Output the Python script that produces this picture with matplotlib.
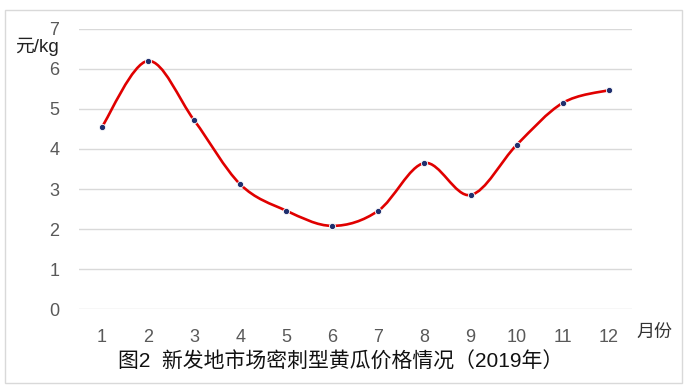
import matplotlib.pyplot as plt
import numpy as np
from matplotlib.path import Path
from matplotlib.patches import PathPatch, Rectangle

plt.rcParams['font.family'] = ['Liberation Sans', 'Noto Sans CJK SC', 'DejaVu Sans']

months = ['1', '2', '3', '4', '5', '6', '7', '8', '9', '10', '11', '12']
price = [4.55, 6.2, 4.72, 3.12, 2.46, 2.08, 2.46, 3.65, 2.85, 4.1, 5.15, 5.47]
yticks = [0, 1, 2, 3, 4, 5, 6, 7]

fig = plt.figure(figsize=(6.92, 3.85), dpi=100)
ax = fig.add_axes([0.114, 0.197, 0.799, 0.728])

x = np.arange(len(price))
y = np.array(price)

# smoothed line like excel (catmull-rom -> bezier)
verts = [(x[0], y[0])]
codes = [Path.MOVETO]
n = len(x)
for i in range(n - 1):
    p0 = (x[i - 1], y[i - 1]) if i > 0 else (x[i], y[i])
    p1 = (x[i], y[i])
    p2 = (x[i + 1], y[i + 1])
    p3 = (x[i + 2], y[i + 2]) if i + 2 < n else (x[i + 1], y[i + 1])
    c1 = (p1[0] + (p2[0] - p0[0]) / 6, p1[1] + (p2[1] - p0[1]) / 6)
    c2 = (p2[0] - (p3[0] - p1[0]) / 6, p2[1] - (p3[1] - p1[1]) / 6)
    verts += [c1, c2, p2]
    codes += [Path.CURVE4] * 3
ax.add_patch(PathPatch(Path(verts, codes), fill=False, edgecolor='#e00000', lw=1.9, zorder=3))
ax.plot(x, y, 'o', ms=4.5, color='#1f2f6e', mec='white', mew=0.6, zorder=4)

ax.set_xlim(-0.5, n - 0.5)
ax.set_ylim(0, 7)
ax.set_yticks(yticks)
ax.set_xticks(x)
ax.set_xticklabels(months)
ax.grid(axis='y', color='#d9d9d9', lw=1)
ax.set_axisbelow(True)
for s in ax.spines.values():
    s.set_visible(False)
ax.tick_params(length=0, labelsize=13, labelcolor='#595959')
ax.tick_params(axis='x', pad=14)
ax.tick_params(axis='y', pad=14)

fig.text(15 / 692, 1 - 47 / 385, '元/kg', fontsize=13.5, color='#222222', va='center', ha='left')
fig.text(636 / 692, 1 - 332 / 385, '月份', fontsize=13, color='#333333', va='center', ha='left')
fig.text(341 / 692, 1 - 362 / 385, '图2  新发地市场密刺型黄瓜价格情况（2019年）', fontsize=15,
         color='#111111', va='center', ha='center')

fig.patches.append(Rectangle((5 / 692, 2 / 385), 677 / 692, 373 / 385, transform=fig.transFigure,
                             fill=False, edgecolor='#d9d9d9', lw=1))

plt.savefig('out.png', dpi=100)
